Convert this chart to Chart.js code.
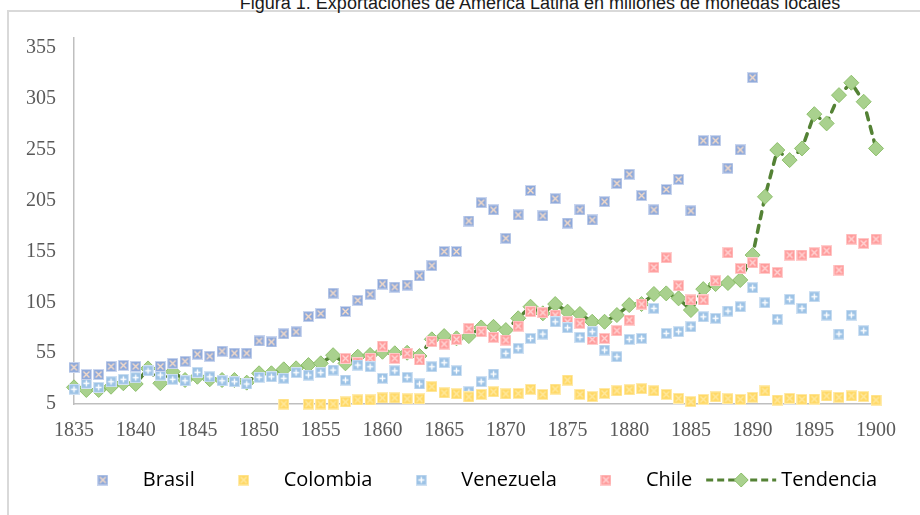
<!DOCTYPE html>
<html>
<head>
<meta charset="utf-8">
<script src="https://cdn.jsdelivr.net/npm/chart.js@4.4.1/dist/chart.umd.min.js"></script>
<style>
  html, body { margin: 0; padding: 0; background: #fff; }
  body { width: 920px; height: 515px; overflow: hidden; position: relative; }
  #frame { position: absolute; left: 7px; top: 10px; width: 1000px; height: 600px;
           border-left: 2px solid #D9D9D9; border-top: 2px solid #D9D9D9; }
  #title { position: absolute; top: -7px; left: 0; width: 1080px; text-align: center;
           font: 18px "Liberation Sans", Arial, sans-serif; color: #1a1a1a; white-space: nowrap; }
  #chart { position: absolute; left: 0; top: 0; }
</style>
</head>
<body>
<div id="frame"></div>
<div id="title">Figura 1. Exportaciones de América Latina en millones de monedas locales</div>
<canvas id="chart" width="920" height="515"></canvas>
<script>
// Data (1835-1900)
const years = [
    1835, 1836, 1837, 1838, 1839, 1840, 1841, 1842, 1843, 1844,
    1845, 1846, 1847, 1848, 1849, 1850, 1851, 1852, 1853, 1854,
    1855, 1856, 1857, 1858, 1859, 1860, 1861, 1862, 1863, 1864,
    1865, 1866, 1867, 1868, 1869, 1870, 1871, 1872, 1873, 1874,
    1875, 1876, 1877, 1878, 1879, 1880, 1881, 1882, 1883, 1884,
    1885, 1886, 1887, 1888, 1889, 1890, 1891, 1892, 1893, 1894,
    1895, 1896, 1897, 1898, 1899, 1900
];

const brasil = [
    41, 34, 34, 42, 43, 42, null, 42, 45, 47,
    54, 52, 57, 55, 55, 67, 66, 74, 76, 91,
    94, 114, 96, 107, 113, 123, 120, 122, 131, 141,
    155, 155, 185, 203, 196, 168, 191, 215, 190, 207,
    183, 196, 186, 204, 222, 231, 210, 196, 216, 226,
    195, 264, 264, 237, 255, 326, null, null, null, null,
    null, null, null, null, null, null
];

const colombia = [
    null, null, null, null, null, null, null, null, null, null,
    null, null, null, null, null, null, null, 5, null, 5,
    5, 5, 7, 9, 9, 11, 11, 10, 10, 22,
    16, 15, 12, 14.5, 17, 15, 15.5, 19.5, 14.5, 19.7,
    28.6, 14.5, 12.2, 15.5, 18, 19, 20, 18, 14.5, 10.6,
    7.3, 9.6, 12, 10.2, 9.6, 11.6, 17.8, 8.9, 10.6, 9.6,
    9.9, 12.9, 11.6, 12.9, 12.2, 8.9
];

const venezuela = [
    19.5, 25.4, 21.4, 26.9, 29.3, 30.9, 37.7, 33.5, 29.3, 27.9,
    36.2, 31.8, 27.9, 26.9, 24.7, 31.3, 31.8, 30.3, 35.8, 33.5,
    35.8, 38.4, 28.6, 43.3, 41.7, 30.3, 37.7, 31.3, 24.7, 41.7,
    45.6, 37.7, 17.1, 26.9, 34.5, 54.9, 59.8, 69.6, 73.8, 85.9,
    80, 70.6, 76.1, 58.1, 51.5, 68.6, 69.6, 99.1, 74.5, 76.1,
    81, 90.8, 89.3, 96.4, 100.7, 119.4, 104.6, 88.3, 108, 99.1,
    110.5, 92.5, 73.8, 92.5, 77.1, null
];

const chile = [
    null, null, null, null, null, null, null, null, null, null,
    null, null, null, null, null, null, null, null, null, null,
    null, null, 49.9, 45.6, 49.9, 62, 49.9, 54.9, 48.3, 66.3,
    64, 68.6, 79.4, 76.1, 70.6, 67.9, 81.6, 95.8, 94.8, 92.5,
    85.9, 84.4, 68.6, 69.6, 77.1, 87.6, 103.3, 139.4, 148.9, 121.3,
    107.3, 107.3, 126.2, 153.8, 138.4, 143.9, 138.4, 134.5, 151.5, 151.5,
    153.8, 155.7, 136.8, 167.2, 163, 167.2
];

const tendencia = [
    21.4, 18.8, 18.8, 22, 25.4, 24.7, 40, 25.4, 36.8, 28.6,
    31.8, 29.3, 28.6, 28.6, 26, 35.2, 35.2, 39.1, 40.1, 43.3,
    45, 53, 45, 51.5, 53.2, 56.4, 54.9, 55.4, 52.2, 68.6,
    71.8, 69.6, 71.8, 80.3, 80.9, 77.7, 89.3, 100.7, 94.2, 103.3,
    95.8, 93.5, 85.9, 85.9, 92.5, 102.3, 103.3, 113.2, 113.8, 108.9,
    97.4, 118, 123, 124, 127, 151.5, 208.8, 254.8, 244.9, 256.4,
    290.1, 281, 308.8, 321, 302.3, 256.4
];

const yTicks = [5, 55, 105, 155, 205, 255, 305, 355];
const seriesNames = ['Brasil', 'Colombia', 'Venezuela', 'Chile', 'Tendencia'];

// Marker images
function squareMarker(fill, edge, mark, kind) {
    const c = document.createElement('canvas');
    c.width = 11; c.height = 11;
    const g = c.getContext('2d');
    g.fillStyle = edge;
    g.fillRect(0, 0, 11, 11);
    g.fillStyle = fill;
    g.fillRect(1, 1, 9, 9);
    g.strokeStyle = mark;
    g.lineWidth = 1.4;
    g.beginPath();
    if (kind === 'x') {
        g.moveTo(2.5, 2.5); g.lineTo(8.5, 8.5);
        g.moveTo(8.5, 2.5); g.lineTo(2.5, 8.5);
    } else {
        g.moveTo(5.5, 2.5); g.lineTo(5.5, 8.5);
        g.moveTo(2.5, 5.5); g.lineTo(8.5, 5.5);
    }
    g.stroke();
    return c;
}

const brasilMark = squareMarker('#8EA9DB', '#C9D5EE', '#F6DCC8', 'x');
const colombiaMark = squareMarker('#FFD966', '#FFEBAD', '#FFE9A0', 'x');
const venezuelaMark = squareMarker('#9DC3E6', '#CFE1F3', '#FFFFFF', '+');
const chileMark = squareMarker('#FF9B9B', '#FFCDCD', '#FFD6D6', 'x');

function trendLegend() {
    const c = document.createElement('canvas');
    c.width = 72; c.height = 18;
    const g = c.getContext('2d');
    g.strokeStyle = '#548235';
    g.lineWidth = 3;
    g.setLineDash([7, 4]);
    g.beginPath();
    g.moveTo(1, 9); g.lineTo(71, 9);
    g.stroke();
    g.setLineDash([]);
    g.fillStyle = '#A9D18E';
    g.strokeStyle = '#8DBF6B';
    g.lineWidth = 1;
    g.beginPath();
    g.moveTo(36, 2); g.lineTo(43, 9); g.lineTo(36, 16); g.lineTo(29, 9);
    g.closePath();
    g.fill(); g.stroke();
    return c;
}

const legendSymbols = [brasilMark, colombiaMark, venezuelaMark, chileMark, trendLegend()];

// Move the legend so it is centred under the plot area
const legendShift = {
    id: 'legendShift',
    afterLayout(chart) {
        chart.legend.left += 37;
        chart.legend.right += 37;
    }
};

function markerSet(label, values, img) {
    return {
        label: label,
        data: values,
        showLine: false,
        pointStyle: img,
        pointRadius: 5,
        clip: false
    };
}

const ctx = document.getElementById('chart').getContext('2d');
new Chart(ctx, {
    type: 'line',
    data: {
        labels: years,
        datasets: [
            markerSet(seriesNames[0], brasil, brasilMark),
            markerSet(seriesNames[1], colombia, colombiaMark),
            markerSet(seriesNames[2], venezuela, venezuelaMark),
            markerSet(seriesNames[3], chile, chileMark),
            {
                label: seriesNames[4],
                data: tendencia,
                borderColor: '#548235',
                borderWidth: 3.5,
                borderDash: [7, 7],
                borderCapStyle: 'round',
                tension: 0,
                pointStyle: 'rectRot',
                pointRadius: 7.5,
                pointBackgroundColor: '#A9D18E',
                pointBorderColor: '#8DBF6B',
                pointBorderWidth: 1,
                clip: false
            }
        ]
    },
    options: {
        responsive: false,
        animation: false,
        layout: {
            padding: { left: 0, right: 44, top: 38, bottom: 15 }
        },
        plugins: {
            title: { display: false },
            tooltip: { enabled: false },
            legend: {
                position: 'bottom',
                labels: {
                    usePointStyle: true,
                    pointStyleWidth: 60,
                    padding: 19,
                    color: '#595959',
                    font: { family: 'Open Sans', size: 20 },
                    generateLabels: (chart) => chart.data.datasets.map((ds, i) => ({
                        text: ds.label,
                        datasetIndex: i,
                        pointStyle: legendSymbols[i],
                        fillStyle: 'transparent',
                        strokeStyle: 'transparent',
                        lineWidth: 0,
                        hidden: false
                    }))
                }
            }
        },
        scales: {
            x: {
                offset: false,
                grid: { display: false, drawTicks: false, offset: false },
                border: { display: true, color: '#BFBFBF', width: 1.5 },
                afterFit: (scale) => { scale.height = 47; },
                ticks: {
                    autoSkip: false,
                    maxRotation: 0,
                    minRotation: 0,
                    padding: 15,
                    color: '#595959',
                    font: { family: 'Liberation Serif', size: 20 },
                    callback: (value, index) => (years[index] % 5 === 0 ? String(years[index]) : '')
                }
            },
            y: {
                min: 5,
                max: 365,
                afterBuildTicks: (scale) => { scale.ticks = yTicks.map(v => ({ value: v })); },
                afterFit: (scale) => { scale.width = 74; },
                grid: { display: false, drawTicks: false },
                border: { display: true, color: '#BFBFBF', width: 1.5 },
                ticks: {
                    padding: 18,
                    color: '#595959',
                    font: { family: 'Liberation Serif', size: 20 }
                }
            }
        }
    },
    plugins: [legendShift]
});
</script>
</body>
</html>
